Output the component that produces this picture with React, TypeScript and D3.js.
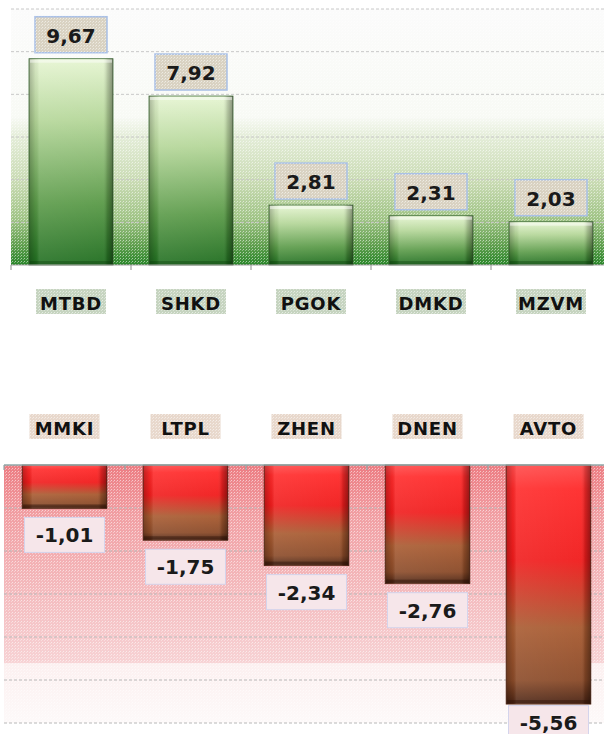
import React from "react";
import * as d3 from "d3";

const upCategories = ["MTBD", "SHKD", "PGOK", "DMKD", "MZVM"];
const upValues = [9.67, 7.92, 2.81, 2.31, 2.03];
const downCategories = ["MMKI", "LTPL", "ZHEN", "DNEN", "AVTO"];
const downValues = [-1.01, -1.75, -2.34, -2.76, -5.56];
const upTicks = [2, 4, 6, 8, 10, 12];
const downTicks = [-1, -2, -3, -4, -5, -6];

const fmt = (v: number) => v.toFixed(2).replace(".", ",");
const FONT = "'DejaVu Sans', Verdana, sans-serif";

export default function App() {
  const W = 604, H = 734;
  const xUp = d3.scaleBand<string>().domain(upCategories).range([11, 611]).paddingInner(0.3).paddingOuter(0.15);
  const yUp = d3.scaleLinear().domain([0, 12]).range([265, 9]);
  const xDn = d3.scaleBand<string>().domain(downCategories).range([4, 609]).paddingInner(0.3).paddingOuter(0.15);
  const yDn = d3.scaleLinear().domain([0, -6]).range([465, 723]);

  const stepUp = xUp.step();
  const stepDn = xDn.step();
  const upBounds = d3.range(upCategories.length + 1).map(i => 11 + i * stepUp);
  const dnBounds = d3.range(downCategories.length + 1).map(i => 4 + i * stepDn);

  return (
    <svg width={W} height={H} style={{ position: "absolute", left: 0, top: 0 }}>
      <defs>
        <linearGradient id="bgUp" x1="0" y1="0" x2="0" y2="1">
          <stop offset="0" stopColor="#fbfbfb" />
          <stop offset="0.42" stopColor="#f8faf5" />
          <stop offset="0.5" stopColor="#e4edd8" />
          <stop offset="0.68" stopColor="#c8dab2" />
          <stop offset="0.82" stopColor="#a0c486" />
          <stop offset="0.92" stopColor="#62a050" />
          <stop offset="1" stopColor="#2a862a" />
        </linearGradient>
        <linearGradient id="bgDn" x1="0" y1="0" x2="0" y2="1">
          <stop offset="0" stopColor="#ec7c82" />
          <stop offset="0.2" stopColor="#f1a0a4" />
          <stop offset="0.5" stopColor="#f4bcbf" />
          <stop offset="0.765" stopColor="#f7d2d4" />
          <stop offset="0.77" stopColor="#fcf0f0" />
          <stop offset="1" stopColor="#fdf9f9" />
        </linearGradient>
        <pattern id="dots" width="3" height="3" patternUnits="userSpaceOnUse">
          <rect x="0" y="0" width="1" height="1" fill="#ffffff" opacity="0.55" />
          <rect x="2" y="1" width="1" height="1" fill="#ffffff" opacity="0.35" />
        </pattern>
        <linearGradient id="barGreen" x1="0" y1="0" x2="0" y2="1">
          <stop offset="0" stopColor="#e6f5d2" />
          <stop offset="0.3" stopColor="#b4d698" />
          <stop offset="0.7" stopColor="#5a9a48" />
          <stop offset="1" stopColor="#1f6d1f" />
        </linearGradient>
        <linearGradient id="barRed" x1="0" y1="0" x2="0" y2="1">
          <stop offset="0" stopColor="#ff4a4a" />
          <stop offset="0.1" stopColor="#ff2a2a" />
          <stop offset="0.4" stopColor="#f01c1c" />
          <stop offset="0.68" stopColor="#a85a30" />
          <stop offset="0.9" stopColor="#8a4a28" />
          <stop offset="1" stopColor="#4a2414" />
        </linearGradient>
        <linearGradient id="sideShade" x1="0" y1="0" x2="1" y2="0">
          <stop offset="0" stopColor="#000" stopOpacity="0.25" />
          <stop offset="0.08" stopColor="#000" stopOpacity="0.05" />
          <stop offset="0.12" stopColor="#fff" stopOpacity="0.1" />
          <stop offset="0.88" stopColor="#fff" stopOpacity="0.05" />
          <stop offset="0.93" stopColor="#000" stopOpacity="0.15" />
          <stop offset="1" stopColor="#000" stopOpacity="0.4" />
        </linearGradient>
      </defs>

      {/* TOP CHART */}
      <rect x={11} y={yUp(12)} width={600} height={yUp(0) - yUp(12)} fill="url(#bgUp)" />
      <rect x={11} y={yUp(12)} width={600} height={yUp(0) - yUp(12)} fill="url(#dots)" />
      {upTicks.map(t => (
        <line key={t} x1={11} x2={611} y1={yUp(t)} y2={yUp(t)} stroke="#c8c8c8" strokeDasharray="3,2" strokeWidth={1} />
      ))}
      {upCategories.map((c, i) => {
        const x = xUp(c)!;
        const w = xUp.bandwidth();
        const y = yUp(upValues[i]);
        const h = yUp(0) - y;
        return (
          <g key={c}>
            <rect x={x} y={y} width={w} height={h} fill="url(#barGreen)" stroke="#3d6b35" strokeWidth={0.8} />
            <rect x={x} y={y} width={w} height={h} fill="url(#sideShade)" />
            <rect x={x + 1} y={y + 1} width={w - 2} height={3} fill="#ffffff" opacity={0.45} />
            <rect x={x + 1} y={y + h - 4} width={w - 2} height={3} fill="#0a3a0a" opacity={0.35} />
          </g>
        );
      })}
      <line x1={11} x2={611} y1={yUp(0)} y2={yUp(0)} stroke="#a0a0a0" strokeWidth={1.2} />
      {upBounds.map((b, i) => (
        <line key={i} x1={b} x2={b} y1={yUp(0)} y2={yUp(0) + 5} stroke="#a0a0a0" strokeWidth={1.2} />
      ))}
      {upCategories.map((c, i) => {
        const cx = xUp(c)! + xUp.bandwidth() / 2;
        const y = yUp(upValues[i]);
        return (
          <g key={c}>
            <rect x={cx - 36} y={y - 42} width={72} height={36} fill="#d9d2c2" stroke="#a9c0e6" strokeWidth={1.5} />
            <rect x={cx - 36} y={y - 42} width={72} height={36} fill="url(#dots)" />
            <text x={cx} y={y - 16} textAnchor="middle" fontFamily={FONT} fontWeight="bold" fontSize={20} fill="#1a1a1a">{fmt(upValues[i])}</text>
          </g>
        );
      })}
      {upCategories.map(c => {
        const cx = xUp(c)! + xUp.bandwidth() / 2;
        return (
          <g key={c}>
            <rect x={cx - 35} y={289} width={70} height={25} fill="#c6d4c0" />
            <rect x={cx - 35} y={289} width={70} height={25} fill="url(#dots)" />
            <text x={cx} y={309.5} textAnchor="middle" fontFamily={FONT} fontWeight="bold" fontSize={18} letterSpacing={0.8} fill="#111">{c}</text>
          </g>
        );
      })}

      {/* BOTTOM CHART */}
      {downCategories.map(c => {
        const cx = xDn(c)! + xDn.bandwidth() / 2;
        return (
          <g key={c}>
            <rect x={cx - 35} y={414} width={70} height={25} fill="#e8d8cc" />
            <rect x={cx - 35} y={414} width={70} height={25} fill="url(#dots)" />
            <text x={cx} y={434.5} textAnchor="middle" fontFamily={FONT} fontWeight="bold" fontSize={18} letterSpacing={0.8} fill="#111">{c}</text>
          </g>
        );
      })}
      <rect x={4} y={yDn(0)} width={605} height={yDn(-6) - yDn(0)} fill="url(#bgDn)" />
      <rect x={4} y={yDn(0)} width={605} height={yDn(-6) - yDn(0)} fill="url(#dots)" />
      {downTicks.map(t => (
        <line key={t} x1={4} x2={609} y1={yDn(t)} y2={yDn(t)} stroke="#b8b8b8" strokeDasharray="3,2" strokeWidth={1} />
      ))}
      {downCategories.map((c, i) => {
        const x = xDn(c)!;
        const w = xDn.bandwidth();
        const y = yDn(0);
        const h = yDn(downValues[i]) - y;
        return (
          <g key={c}>
            <rect x={x} y={y} width={w} height={h} fill="url(#barRed)" stroke="#5a2a18" strokeWidth={0.8} />
            <rect x={x} y={y} width={w} height={h} fill="url(#sideShade)" />
            <rect x={x + 1} y={y + h - 4} width={w - 2} height={3} fill="#2a0e04" opacity={0.4} />
          </g>
        );
      })}
      <line x1={4} x2={609} y1={yDn(0)} y2={yDn(0)} stroke="#8fa8a8" strokeWidth={1.5} />
      {dnBounds.map((b, i) => (
        <line key={i} x1={b} x2={b} y1={yDn(0)} y2={yDn(0) + 5} stroke="#8fa8a8" strokeWidth={1.2} />
      ))}
      {downCategories.map((c, i) => {
        const cx = xDn(c)! + xDn.bandwidth() / 2;
        const y = yDn(downValues[i]);
        const top = Math.min(y + 9, y + 1.5);
        const boxTop = y + 9 + 35 > H ? top : y + 9;
        return (
          <g key={c}>
            <rect x={cx - 40} y={boxTop} width={80} height={35} fill="#f6e6ea" stroke="#d4d4ec" strokeWidth={1} />
            <text x={cx} y={Math.min(boxTop + 25, H - 4)} textAnchor="middle" fontFamily={FONT} fontWeight="bold" fontSize={20} fill="#1a1a1a">{fmt(downValues[i])}</text>
          </g>
        );
      })}
    </svg>
  );
}
